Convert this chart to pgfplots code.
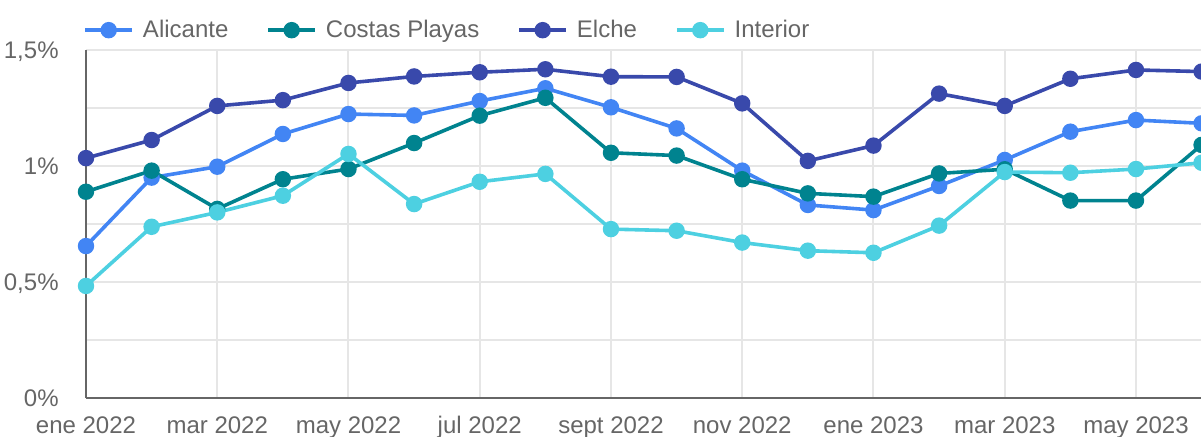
\documentclass[border=0pt]{standalone}
\usepackage{fontspec}
\setmainfont{Liberation Sans}
\usepackage{pgfplots}
\pgfplotsset{compat=1.18}
\definecolor{cAli}{HTML}{4285F4}
\definecolor{cCos}{HTML}{00838F}
\definecolor{cElc}{HTML}{3949AB}
\definecolor{cInt}{HTML}{4DD0E1}
\definecolor{txt}{HTML}{666666}
\definecolor{gridc}{HTML}{E6E6E6}
\begin{document}
\fontsize{12pt}{14pt}\selectfont
\begin{tikzpicture}
\begin{axis}[
 at={(0,0)}, anchor=south west, name=ax,
 scale only axis, width=557.8pt, height=174pt,
 xmin=0, xmax=17, ymin=0, ymax=1.5,
 axis lines*=left,
 axis line style={draw=txt, line width=1.3pt},
 xtick={0,2,...,16},
 xticklabels={ene 2022, mar 2022, may 2022, jul 2022, sept 2022, nov 2022, ene 2023, mar 2023, may 2023},
 ytick={0,0.5,1,1.5},
 yticklabels={{0\%},{0,5\%},{1\%},{1,5\%}},
 minor ytick={0.25,0.75,1.25},
 xmajorgrids, ymajorgrids, yminorgrids,
 major grid style={draw=gridc, line width=1pt},
 minor grid style={draw=gridc, line width=1pt},
 major tick length=0pt, minor tick length=0pt,
 tick label style={font=\fontsize{12pt}{14pt}\selectfont, text=txt, inner sep=0pt},
 xticklabel style={anchor=base, yshift=-17.5pt},
 yticklabel style={anchor=base east, xshift=-13.5pt, yshift=-4.3pt},
 legend columns=4,
 legend style={at={(axis description cs:0,1.057)}, xshift=-1.5pt, anchor=west, draw=none, fill=none, inner sep=0pt,
   nodes={inner sep=0pt, text=txt, font=\fontsize{12pt}{14pt}\selectfont},
   /tikz/every odd column/.style={column sep=4.5pt},
   /tikz/every even column/.style={column sep=19pt}},
 legend image code/.code={\draw[mark repeat=2, mark phase=2, #1] plot coordinates {(0pt,0pt) (11.75pt,0pt) (23.5pt,0pt)};},
 every axis plot/.append style={line width=1.8pt, mark=*, mark size=3.2pt, mark options={solid}},
]
\addplot[color=cAli] coordinates {
(0,0.655) (1,0.950) (2,0.997) (3,1.138) (4,1.224) (5,1.218) (6,1.280) (7,1.335) (8,1.253)
(9,1.162) (10,0.980) (11,0.832) (12,0.810) (13,0.914) (14,1.026) (15,1.148) (16,1.198) (17,1.184)};
\addlegendentry{Alicante}
\addplot[color=cCos] coordinates {
(0,0.889) (1,0.980) (2,0.815) (3,0.943) (4,0.987) (5,1.099) (6,1.217) (7,1.294) (8,1.057)
(9,1.045) (10,0.943) (11,0.882) (12,0.868) (13,0.968) (14,0.986) (15,0.851) (16,0.851) (17,1.091)};
\addlegendentry{Costas Playas}
\addplot[color=cElc] coordinates {
(0,1.034) (1,1.112) (2,1.259) (3,1.284) (4,1.358) (5,1.386) (6,1.404) (7,1.417) (8,1.385)
(9,1.384) (10,1.270) (11,1.022) (12,1.088) (13,1.312) (14,1.259) (15,1.376) (16,1.414) (17,1.407)};
\addlegendentry{Elche}
\addplot[color=cInt] coordinates {
(0,0.483) (1,0.738) (2,0.800) (3,0.872) (4,1.052) (5,0.836) (6,0.932) (7,0.966) (8,0.728)
(9,0.721) (10,0.670) (11,0.635) (12,0.626) (13,0.743) (14,0.974) (15,0.971) (16,0.987) (17,1.014)};
\addlegendentry{Interior}
\end{axis}
\pgfresetboundingbox
\path[use as bounding box] (-43pt,-19pt) rectangle (557.5pt,199pt);
\end{tikzpicture}
\end{document}
